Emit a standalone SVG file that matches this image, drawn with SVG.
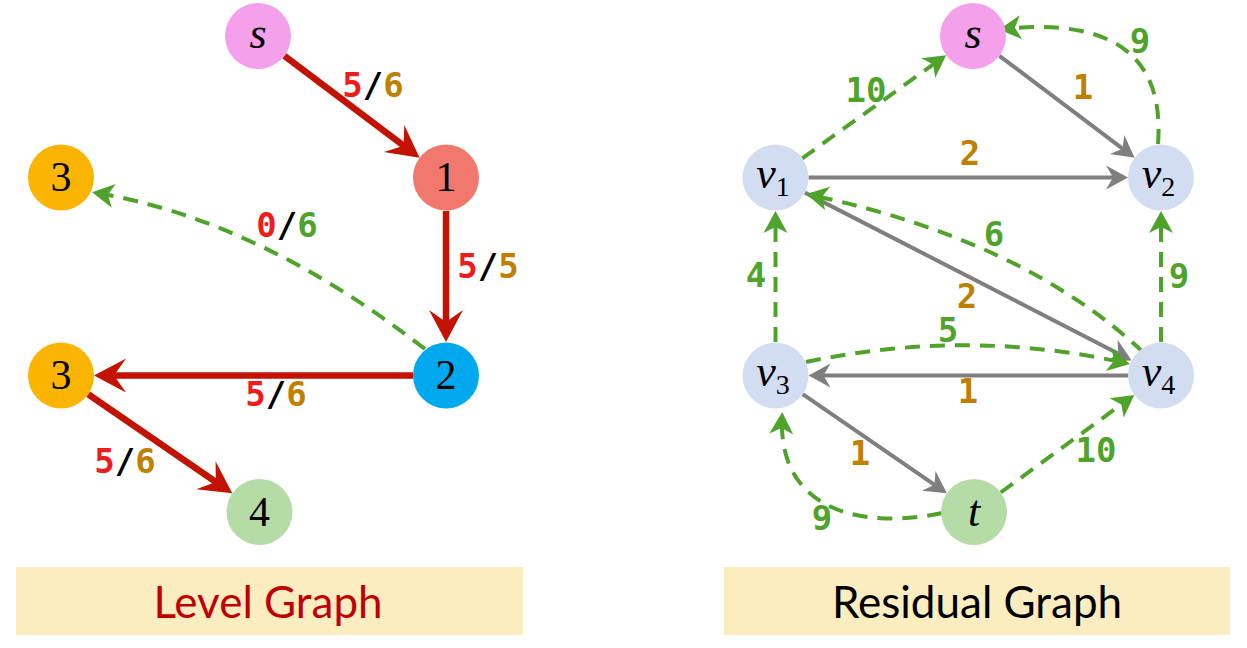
<svg xmlns="http://www.w3.org/2000/svg" width="1247" height="648" viewBox="0 0 1247 648">
<style>
.node-label{font-family:"Liberation Serif","DejaVu Serif",serif;font-size:42px;fill:#000;text-anchor:middle}
.node-it{font-family:"Liberation Serif","DejaVu Serif",serif;font-style:italic;font-size:44px;fill:#000;text-anchor:middle}
.sub{font-style:normal;font-size:28px}
.lbl{font-family:"DejaVu Sans Mono","Liberation Mono",monospace;font-weight:bold;font-size:34px;text-anchor:middle}
.red{fill:#EE1C1C}.blk{fill:#000}.gold{fill:#BF8000}.grn{fill:#4FA32B}
.e-red{fill:none;stroke:#C41200;stroke-width:6.5;marker-end:url(#arrRed)}
.e-gray{fill:none;stroke:#7F7F7F;stroke-width:4;marker-end:url(#arrGray)}
.e-grn{fill:none;stroke:#4FA32B;stroke-width:4;stroke-dasharray:15 10;marker-end:url(#arrGrn)}
.title{font-family:Lato,"Open Sans",sans-serif;font-size:44px;text-anchor:middle}
</style>
<defs>
<marker id="arrRed" viewBox="-30 -20 45 40" refX="0" refY="0" markerWidth="45" markerHeight="40" markerUnits="userSpaceOnUse" orient="auto" overflow="visible">
<path d="M8,0 L-24,-17 L-12,0 L-24,17 Z" fill="#C41200"/>
</marker>
<marker id="arrGray" viewBox="-20 -15 30 30" refX="0" refY="0" markerWidth="30" markerHeight="30" markerUnits="userSpaceOnUse" orient="auto" overflow="visible">
<path d="M6,0 L-16,-12 L-9,0 L-16,12 Z" fill="#7F7F7F"/>
</marker>
<marker id="arrGrn" viewBox="-20 -15 30 30" refX="0" refY="0" markerWidth="30" markerHeight="30" markerUnits="userSpaceOnUse" orient="auto" overflow="visible">
<path d="M5,0 L-17,-12 L-11,0 L-17,12 Z" fill="#4FA32B"/>
</marker>
</defs>
<rect width="1247" height="648" fill="#fff"/>

<g id="connectors">
<!-- Level graph -->
<path class="e-red" d="M284.4,55.8 L413.2,152.9"/>
<path class="e-red" d="M446,211 L446,334"/>
<path class="e-red" d="M413,375.5 L102,375.5"/>
<path class="e-red" d="M88.2,394.2 L225.7,488.8"/>
<path class="e-grn" d="M425,349 Q258,220 97,193"/>
<!-- Residual graph -->
<path class="e-gray" d="M999.4,55.8 L1129.8,154.1"/>
<path class="e-gray" d="M808.5,177.5 L1122,177.5"/>
<path class="e-gray" d="M804.9,192.6 L1126.3,357.7"/>
<path class="e-gray" d="M1128,375.5 L814.5,375.5"/>
<path class="e-gray" d="M802.7,394.2 L941.9,489.9"/>
<path class="e-grn" d="M802.3,158.3 L942.1,58.1"/>
<path class="e-grn" d="M1158,144 Q1168,12 1004,29"/>
<path class="e-grn" d="M1143,352 Q1023,240 811,195"/>
<path class="e-grn" d="M775.5,342 L775.5,216"/>
<path class="e-grn" d="M1161,342 L1161,216"/>
<path class="e-grn" d="M806,362 Q968,328 1125,363"/>
<path class="e-grn" d="M1000.7,492.5 L1130.3,397.9"/>
<path class="e-grn" d="M942,513 C860,530 778,510 782,417"/>
</g>

<g id="edge-labels">
<text class="lbl" x="373" y="97"><tspan class="red">5</tspan><tspan class="blk">/</tspan><tspan class="gold">6</tspan></text>
<text class="lbl" x="287" y="237"><tspan class="red">0</tspan><tspan class="blk">/</tspan><tspan class="grn">6</tspan></text>
<text class="lbl" x="488" y="278"><tspan class="red">5</tspan><tspan class="blk">/</tspan><tspan class="gold">5</tspan></text>
<text class="lbl" x="276" y="406"><tspan class="red">5</tspan><tspan class="blk">/</tspan><tspan class="gold">6</tspan></text>
<text class="lbl" x="125" y="473"><tspan class="red">5</tspan><tspan class="blk">/</tspan><tspan class="gold">6</tspan></text>

<text class="lbl grn" x="866" y="102">10</text>
<text class="lbl grn" x="1140" y="53">9</text>
<text class="lbl gold" x="1083" y="99">1</text>
<text class="lbl gold" x="970" y="165">2</text>
<text class="lbl grn" x="994" y="246">6</text>
<text class="lbl grn" x="756" y="287">4</text>
<text class="lbl grn" x="1179" y="288">9</text>
<text class="lbl gold" x="967" y="308">2</text>
<text class="lbl grn" x="948" y="342">5</text>
<text class="lbl gold" x="968" y="403">1</text>
<text class="lbl gold" x="860" y="465">1</text>
<text class="lbl grn" x="1096" y="462">10</text>
<text class="lbl grn" x="822" y="530">9</text>
</g>

<!-- Level graph nodes -->
<g id="L-s"><circle cx="258" cy="36" r="33" fill="#F4A0EA"/><text class="node-it" x="258" y="48">s</text></g>
<g id="L-1"><circle cx="446" cy="177.5" r="33" fill="#F2776D"/><text class="node-label" x="446" y="191">1</text></g>
<g id="L-3a"><circle cx="61" cy="177.5" r="33" fill="#FBB500"/><text class="node-label" x="61" y="191">3</text></g>
<g id="L-2"><circle cx="446" cy="375.5" r="33" fill="#00A9EE"/><text class="node-label" x="446" y="389">2</text></g>
<g id="L-3b"><circle cx="61" cy="375.5" r="33" fill="#FBB500"/><text class="node-label" x="61" y="389">3</text></g>
<g id="L-4"><circle cx="259.5" cy="512" r="33" fill="#B5DBA7"/><text class="node-label" x="259.5" y="525.5">4</text></g>

<!-- Residual graph nodes -->
<g id="R-s"><circle cx="973" cy="36" r="33" fill="#F4A0EA"/><text class="node-it" x="973" y="48">s</text></g>
<g id="R-v1"><circle cx="775.5" cy="177.5" r="33" fill="#D3DDF1"/><text class="node-it" x="773" y="188">v<tspan class="sub" dy="8">1</tspan></text></g>
<g id="R-v2"><circle cx="1161" cy="177.5" r="33" fill="#D3DDF1"/><text class="node-it" x="1158.5" y="188">v<tspan class="sub" dy="8">2</tspan></text></g>
<g id="R-v3"><circle cx="775.5" cy="375.5" r="33" fill="#D3DDF1"/><text class="node-it" x="773" y="386">v<tspan class="sub" dy="8">3</tspan></text></g>
<g id="R-v4"><circle cx="1161" cy="375.5" r="33" fill="#D3DDF1"/><text class="node-it" x="1158.5" y="386">v<tspan class="sub" dy="8">4</tspan></text></g>
<g id="R-t"><circle cx="974" cy="512" r="33" fill="#B5DBA7"/><text class="node-it" x="974" y="526">t</text></g>

<g id="title-level"><rect x="16" y="567" width="507" height="68" fill="#FCEDC0"/><text class="title" x="268" y="618" fill="#C00000">Level Graph</text></g>
<g id="title-residual"><rect x="724" y="567" width="506" height="68" fill="#FCEDC0"/><text class="title" x="977" y="618" fill="#000">Residual Graph</text></g>
</svg>
